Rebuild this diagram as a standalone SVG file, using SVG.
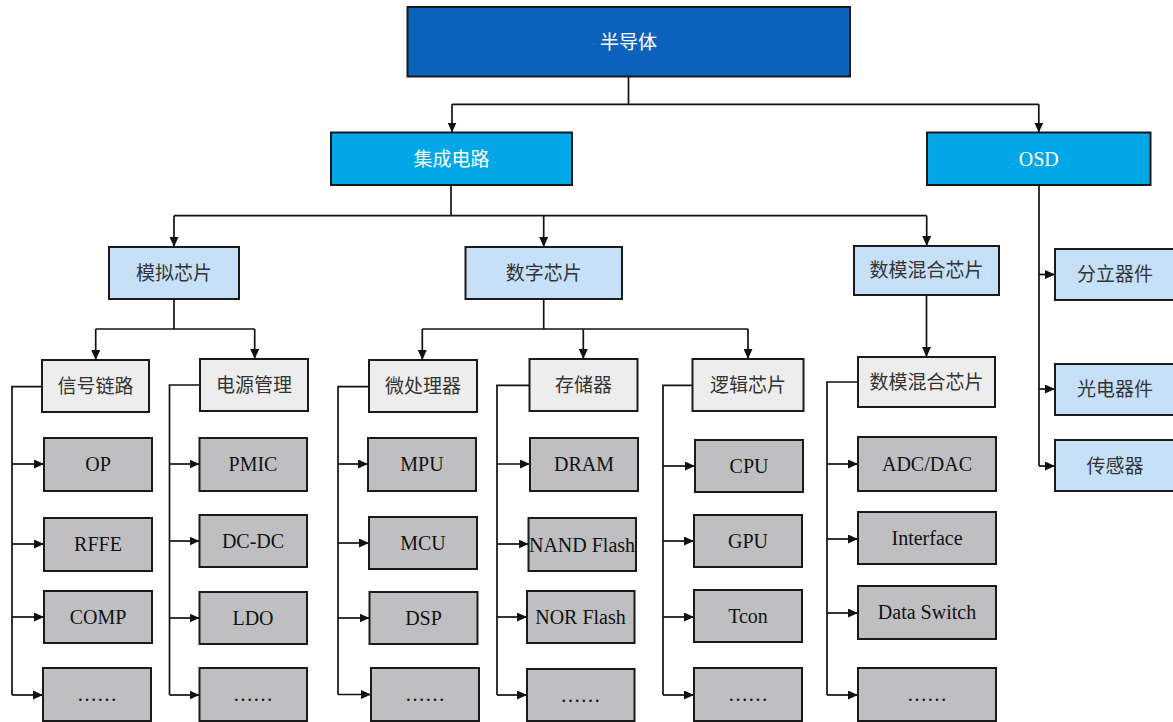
<svg xmlns="http://www.w3.org/2000/svg" width="1173" height="722" viewBox="0 0 1173 722">
<style>
.bx{stroke:#1a1a1a;stroke-width:2}
.l0{fill:#0B62BD}
.l1{fill:#01A7E7}
.l2{fill:#C6E0F9}
.l3{fill:#EDEDED}
.l4{fill:#BFBFC1}
.cn{font-family:"Noto Sans CJK SC","Noto Sans",sans-serif;font-size:19px;fill:#333;text-anchor:middle}
.en{font-family:"Liberation Serif","Times New Roman",serif;font-size:20px;fill:#111;text-anchor:middle}
.w{fill:#fff}
.ln{fill:none;stroke:#111;stroke-width:1.7}
</style>
<defs>
<marker id="ar" markerUnits="userSpaceOnUse" markerWidth="10" markerHeight="9" refX="10" refY="4.5" orient="auto">
<path d="M0,0 L10,4.5 L0,9 z" fill="#111"/>
</marker>
</defs>
<rect width="1173" height="722" fill="#fff"/>
<g id="connectors">
<path class="ln" d="M628.5,77 V104.3"/>
<path class="ln" d="M452,104.3 H1038.8"/>
<path class="ln" d="M452,104.3 V132.5" marker-end="url(#ar)"/>
<path class="ln" d="M1038.8,104.3 V132.5" marker-end="url(#ar)"/>
<path class="ln" d="M451,185 V215.7"/>
<path class="ln" d="M174,215.7 H926.7"/>
<path class="ln" d="M174,215.7 V247" marker-end="url(#ar)"/>
<path class="ln" d="M543.7,215.7 V247" marker-end="url(#ar)"/>
<path class="ln" d="M926.7,215.7 V246" marker-end="url(#ar)"/>
<path class="ln" d="M174,299 V329 M95.7,329 H254.7"/>
<path class="ln" d="M95.7,329 V360" marker-end="url(#ar)"/>
<path class="ln" d="M254.7,329 V359" marker-end="url(#ar)"/>
<path class="ln" d="M543.7,299 V329 M422.3,329 H748"/>
<path class="ln" d="M422.3,329 V360" marker-end="url(#ar)"/>
<path class="ln" d="M583.3,329 V359" marker-end="url(#ar)"/>
<path class="ln" d="M748,329 V359" marker-end="url(#ar)"/>
<path class="ln" d="M926.5,295 V357" marker-end="url(#ar)"/>
<!-- OSD -->
<path class="ln" d="M1039,185 V466"/>
<path class="ln" d="M1039,274.5 H1055" marker-end="url(#ar)"/>
<path class="ln" d="M1039,389 H1055" marker-end="url(#ar)"/>
<path class="ln" d="M1039,466 H1055" marker-end="url(#ar)"/>
<!-- col 1 -->
<path class="ln" d="M42,386.7 H12 V695"/>
<path class="ln" d="M12,464 H44" marker-end="url(#ar)"/>
<path class="ln" d="M12,544 H44" marker-end="url(#ar)"/>
<path class="ln" d="M12,617 H44" marker-end="url(#ar)"/>
<path class="ln" d="M12,695 H43" marker-end="url(#ar)"/>
<!-- col 2 -->
<path class="ln" d="M200,385 H169.5 V695"/>
<path class="ln" d="M169.5,464 H199.5" marker-end="url(#ar)"/>
<path class="ln" d="M169.5,541 H199.5" marker-end="url(#ar)"/>
<path class="ln" d="M169.5,618 H199.5" marker-end="url(#ar)"/>
<path class="ln" d="M169.5,695 H199.5" marker-end="url(#ar)"/>
<!-- col 3 -->
<path class="ln" d="M369,386.7 H338 V694.5"/>
<path class="ln" d="M338,464 H368" marker-end="url(#ar)"/>
<path class="ln" d="M338,543 H369" marker-end="url(#ar)"/>
<path class="ln" d="M338,618 H369.5" marker-end="url(#ar)"/>
<path class="ln" d="M338,694.5 H371" marker-end="url(#ar)"/>
<!-- col 4 -->
<path class="ln" d="M529.5,385.3 H497 V695"/>
<path class="ln" d="M497,464 H530" marker-end="url(#ar)"/>
<path class="ln" d="M497,544 H528.5" marker-end="url(#ar)"/>
<path class="ln" d="M497,617 H527" marker-end="url(#ar)"/>
<path class="ln" d="M497,695 H527" marker-end="url(#ar)"/>
<!-- col 5 -->
<path class="ln" d="M692.5,385.3 H663 V695"/>
<path class="ln" d="M663,466 H695" marker-end="url(#ar)"/>
<path class="ln" d="M663,541 H694" marker-end="url(#ar)"/>
<path class="ln" d="M663,617 H694" marker-end="url(#ar)"/>
<path class="ln" d="M663,695 H694" marker-end="url(#ar)"/>
<!-- col 6 -->
<path class="ln" d="M858,382 H827 V695"/>
<path class="ln" d="M827,464 H858" marker-end="url(#ar)"/>
<path class="ln" d="M827,539 H858" marker-end="url(#ar)"/>
<path class="ln" d="M827,613 H858" marker-end="url(#ar)"/>
<path class="ln" d="M827,695 H858" marker-end="url(#ar)"/>
</g>
<g id="n-semiconductor"><rect class="bx l0" x="407.5" y="7" width="442.5" height="69.5"/><text class="cn w" x="628.5" y="48.5">半导体</text></g>
<g id="n-ic"><rect class="bx l1" x="331" y="132.5" width="241" height="52.5"/><text class="cn w" x="451.5" y="165.5">集成电路</text></g>
<g id="n-osd"><rect class="bx l1" x="927" y="132.5" width="223.5" height="52.5"/><text class="en w" x="1038.8" y="166">OSD</text></g>
<g id="n-analog"><rect class="bx l2" x="109" y="247" width="130" height="52"/><text class="cn" x="174" y="279.5">模拟芯片</text></g>
<g id="n-digital"><rect class="bx l2" x="465.5" y="247" width="156.5" height="52"/><text class="cn" x="543.7" y="279.5">数字芯片</text></g>
<g id="n-mixed"><rect class="bx l2" x="854" y="246" width="145" height="49"/><text class="cn" x="926.5" y="277">数模混合芯片</text></g>
<g id="n-discrete"><rect class="bx l2" x="1055" y="249" width="120" height="51"/><text class="cn" x="1115" y="281">分立器件</text></g>
<g id="n-opto"><rect class="bx l2" x="1055" y="364" width="120" height="51"/><text class="cn" x="1115" y="396">光电器件</text></g>
<g id="n-sensor"><rect class="bx l2" x="1055" y="440" width="120" height="51"/><text class="cn" x="1115" y="472.5">传感器</text></g>
<g id="n-signal"><rect class="bx l3" x="42" y="360" width="107" height="52"/><text class="cn" x="95.5" y="392.5">信号链路</text></g>
<g id="n-power"><rect class="bx l3" x="200" y="359" width="108" height="52"/><text class="cn" x="254" y="391.5">电源管理</text></g>
<g id="n-micro"><rect class="bx l3" x="369" y="360" width="108" height="52"/><text class="cn" x="423" y="392.5">微处理器</text></g>
<g id="n-memory"><rect class="bx l3" x="529.5" y="359" width="108" height="52"/><text class="cn" x="583.5" y="391.5">存储器</text></g>
<g id="n-logic"><rect class="bx l3" x="692.5" y="359" width="111" height="52"/><text class="cn" x="748" y="391.5">逻辑芯片</text></g>
<g id="n-mixed2"><rect class="bx l3" x="858" y="357" width="137" height="50"/><text class="cn" x="926.5" y="388.5">数模混合芯片</text></g>
<g id="n-op"><rect class="bx l4" x="44" y="438" width="108" height="53"/><text class="en" x="98" y="471">OP</text></g>
<g id="n-rffe"><rect class="bx l4" x="44" y="518" width="108" height="53"/><text class="en" x="98" y="551">RFFE</text></g>
<g id="n-comp"><rect class="bx l4" x="44" y="591" width="108" height="52"/><text class="en" x="98" y="624">COMP</text></g>
<g id="n-more1"><rect class="bx l4" x="43" y="668" width="108" height="53"/><text class="en" x="97" y="701">……</text></g>
<g id="n-pmic"><rect class="bx l4" x="199.5" y="438" width="107.5" height="53"/><text class="en" x="253" y="471">PMIC</text></g>
<g id="n-dcdc"><rect class="bx l4" x="199.5" y="515" width="107.5" height="52"/><text class="en" x="253" y="548">DC-DC</text></g>
<g id="n-ldo"><rect class="bx l4" x="199.5" y="592" width="107.5" height="52"/><text class="en" x="253" y="625">LDO</text></g>
<g id="n-more2"><rect class="bx l4" x="199.5" y="668" width="107.5" height="53"/><text class="en" x="253" y="701">……</text></g>
<g id="n-mpu"><rect class="bx l4" x="368" y="438" width="108" height="53"/><text class="en" x="422" y="471">MPU</text></g>
<g id="n-mcu"><rect class="bx l4" x="369" y="517" width="108" height="52"/><text class="en" x="423" y="550">MCU</text></g>
<g id="n-dsp"><rect class="bx l4" x="369.5" y="592" width="108" height="52"/><text class="en" x="423.5" y="625">DSP</text></g>
<g id="n-more3"><rect class="bx l4" x="371" y="668" width="108" height="53"/><text class="en" x="425" y="701">……</text></g>
<g id="n-dram"><rect class="bx l4" x="530" y="438" width="108" height="53"/><text class="en" x="584" y="471">DRAM</text></g>
<g id="n-nand"><rect class="bx l4" x="528.5" y="518" width="107.5" height="53"/><text class="en" x="582" y="551.5">NAND Flash</text></g>
<g id="n-nor"><rect class="bx l4" x="527" y="591" width="107.5" height="52"/><text class="en" x="580.5" y="624">NOR Flash</text></g>
<g id="n-more4"><rect class="bx l4" x="527" y="669" width="107.5" height="52"/><text class="en" x="580.5" y="701.5">……</text></g>
<g id="n-cpu"><rect class="bx l4" x="695" y="440" width="108" height="52"/><text class="en" x="749" y="473">CPU</text></g>
<g id="n-gpu"><rect class="bx l4" x="694" y="515" width="108" height="52"/><text class="en" x="748" y="548">GPU</text></g>
<g id="n-tcon"><rect class="bx l4" x="694" y="590" width="108" height="52"/><text class="en" x="748" y="623">Tcon</text></g>
<g id="n-more5"><rect class="bx l4" x="694" y="668" width="108" height="53"/><text class="en" x="748" y="701">……</text></g>
<g id="n-adc"><rect class="bx l4" x="858" y="437" width="138" height="54"/><text class="en" x="927" y="471">ADC/DAC</text></g>
<g id="n-interface"><rect class="bx l4" x="858" y="512" width="138" height="52"/><text class="en" x="927" y="545">Interface</text></g>
<g id="n-switch"><rect class="bx l4" x="858" y="586" width="138" height="53"/><text class="en" x="927" y="619">Data Switch</text></g>
<g id="n-more6"><rect class="bx l4" x="858" y="668" width="138" height="53"/><text class="en" x="927" y="701">……</text></g>
</svg>
